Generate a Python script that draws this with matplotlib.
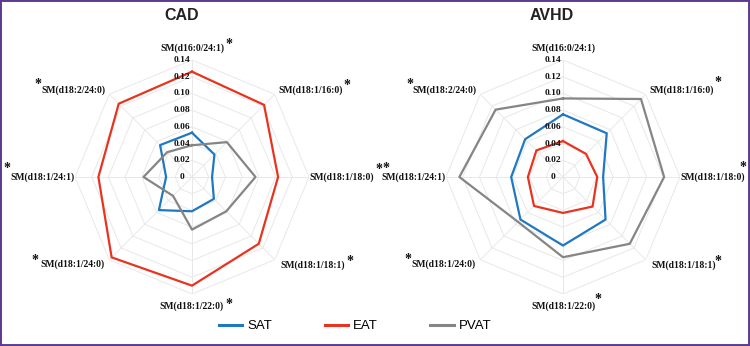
import numpy as np
import matplotlib
matplotlib.use("Agg")
import matplotlib.pyplot as plt
from matplotlib.lines import Line2D
from matplotlib.patches import Rectangle

# ---------------- data ----------------
categories = ["SM(d16:0/24:1)", "SM(d18:1/16:0)", "SM(d18:1/18:0)", "SM(d18:1/18:1)",
              "SM(d18:1/22:0)", "SM(d18:1/24:0)", "SM(d18:1/24:1)", "SM(d18:2/24:0)"]
series_names = ["SAT", "EAT", "PVAT"]

cad_sat = [0.053, 0.038, 0.024, 0.037, 0.041, 0.056, 0.031, 0.054]
cad_eat = [0.126, 0.122, 0.103, 0.113, 0.130, 0.136, 0.112, 0.124]
cad_pvat = [0.038, 0.059, 0.076, 0.058, 0.063, 0.032, 0.058, 0.042]

avhd_sat = [0.075, 0.074, 0.048, 0.072, 0.082, 0.072, 0.062, 0.064]
avhd_eat = [0.043, 0.039, 0.041, 0.050, 0.043, 0.049, 0.042, 0.045]
avhd_pvat = [0.094, 0.132, 0.121, 0.113, 0.096, 0.076, 0.124, 0.114]

ticks = [0, 0.02, 0.04, 0.06, 0.08, 0.10, 0.12, 0.14]
tick_labels = ["0", "0.02", "0.04", "0.06", "0.08", "0.10", "0.12", "0.14"]

cad_stars = [True, True, True, True, True, True, True, True]
avhd_stars = [False, True, True, True, True, True, True, True]

# ---------------- style ----------------
colors = {"SAT": "#1f78c1", "EAT": "#e8341f", "PVAT": "#858585"}
grid_color = "#e8e8e8"
serif = ["Liberation Serif", "DejaVu Serif"]
sans = ["Liberation Sans", "DejaVu Sans"]

W, H = 750, 346
fig = plt.figure(figsize=(W / 100, H / 100), dpi=100)
fig.patch.set_facecolor("white")

R_PX = 117  # pixel radius of 0.14

# label placement per category index: (r, ha)
label_layout = [(0.154, "center"), (0.147, "left"), (0.141, "left"), (0.149, "left"),
                (0.154, "center"), (0.148, "right"), (0.141, "right"), (0.147, "right")]

# star offsets (anchor x fraction of label bbox, dx px, dy px up)
cad_star_pos = [(1, 5, 7), (1, 4, 8), (1, 5, 10), (1, 5, 7),
                (1, 5, 4), (0, -5, 7), (0, -3, 11), (0, -3, 9)]
avhd_star_pos = [(1, 5, 7), (1, 4, 11), (1, -2, 12), (1, 2, 7),
                 (1, 3, 9), (0, -3, 8), (0, 5, 12), (0, -2, 9)]


def make_radar(cx, title, title_x, data, stars, star_pos):
    left = (cx - R_PX) / W
    bottom = (H - 177 - R_PX) / H
    ax = fig.add_axes([left, bottom, 2 * R_PX / W, 2 * R_PX / H], projection="polar")
    ax.set_theta_zero_location("N")
    ax.set_theta_direction(-1)
    ax.set_ylim(0, ticks[-1])
    ax.axis("off")

    n = len(categories)
    theta = np.linspace(0, 2 * np.pi, n, endpoint=False)
    theta_c = np.concatenate([theta, theta[:1]])

    # octagonal grid
    for t in ticks[1:]:
        ax.plot(theta_c, [t] * (n + 1), color=grid_color, lw=0.7, zorder=1)
    for th in theta:
        ax.plot([th, th], [0, ticks[-1]], color=grid_color, lw=0.7, zorder=1)

    # series
    for name, vals in zip(series_names, data):
        v = list(vals) + [vals[0]]
        ax.plot(theta_c, v, color=colors[name], lw=1.6, zorder=3)

    # radial tick labels
    for t, lbl in zip(ticks, tick_labels):
        ax.annotate(lbl, xy=(0, t), xytext=(-10, 0), textcoords="offset pixels",
                    ha="center", va="center", fontsize=6.8, fontweight="bold",
                    family=serif, color="#111111", zorder=4)

    # category labels + stars
    for i, (th, cat) in enumerate(zip(theta, categories)):
        r, ha = label_layout[i]
        txt = ax.text(th, r, cat, ha=ha, va="center", fontsize=6.9,
                      fontweight="bold", family=serif, color="#111111")
        if stars[i]:
            fx, dx, dy = star_pos[i]
            ax.annotate("*", xy=(fx, 0.5), xycoords=txt, xytext=(dx, dy - 3),
                        textcoords="offset pixels", ha="center", va="center",
                        fontsize=10, fontweight="bold", family=serif, color="#111111")

    fig.text(title_x / W, 1 - 15 / H, title, ha="center", va="center",
             fontsize=11.5, fontweight="bold", family=sans, color="#222222")
    return ax


make_radar(192, "CAD", 182, [cad_sat, cad_eat, cad_pvat], cad_stars, cad_star_pos)
make_radar(563, "AVHD", 552, [avhd_sat, avhd_eat, avhd_pvat], avhd_stars, avhd_star_pos)

handles = [Line2D([0], [0], color=colors[n], lw=2.2) for n in series_names]
fig.legend(handles, series_names, loc="center", bbox_to_anchor=(355 / W, 1 - 326 / H),
           ncol=3, frameon=False, handlelength=1.8, handletextpad=0.35,
           columnspacing=4.0, prop={"family": sans, "size": 9.5})

fig.patches.append(Rectangle((0, 0), 1, 1, transform=fig.transFigure, fill=False,
                             edgecolor="#5c3b8e", lw=2.8, zorder=10))

fig.savefig("out.png", dpi=100, facecolor="white")
